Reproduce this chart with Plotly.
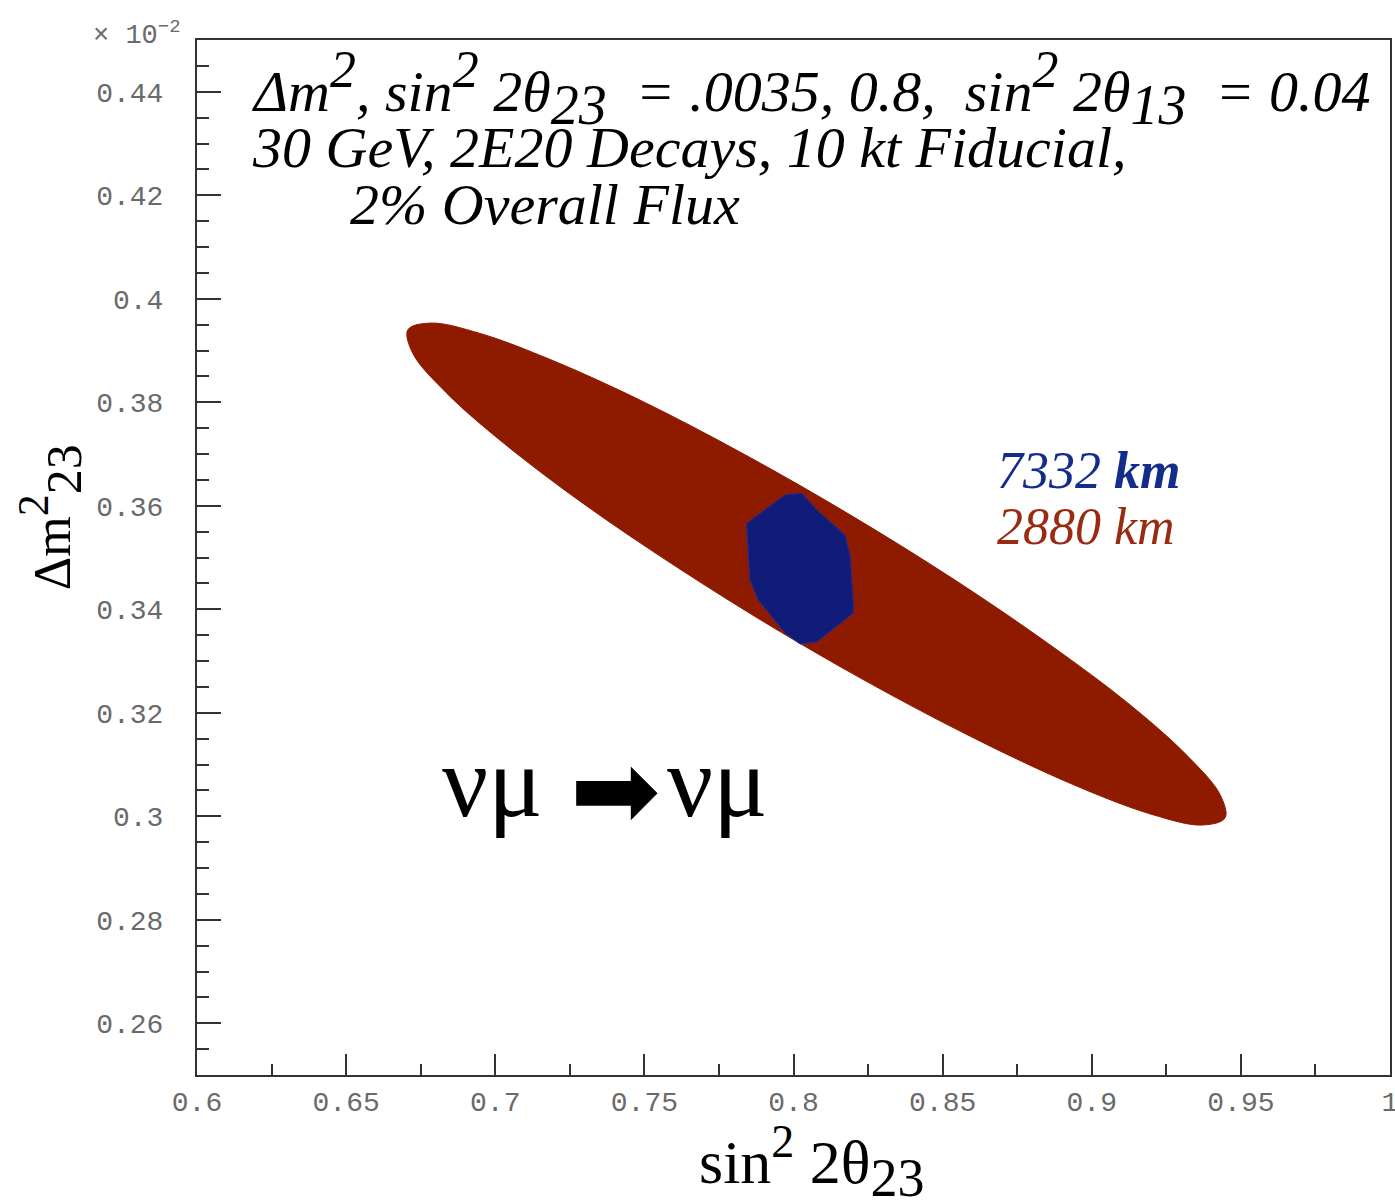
import plotly.graph_objects as go

# ---- data ----
# 2880 km contour boundary (sin^2 2theta23 , dm^2_23 in units of 1e-2 eV^2)
ell_x = [0.9447, 0.9370, 0.9205, 0.8963, 0.8661, 0.8319, 0.7960, 0.7610, 0.7291, 0.7026,
         0.6833, 0.6724, 0.6707, 0.6784, 0.6949, 0.7191, 0.7493, 0.7836, 0.8194, 0.8545,
         0.8863, 0.9129, 0.9322, 0.9430, 0.9447]
ell_y = [0.2997, 0.2983, 0.3003, 0.3055, 0.3135, 0.3237, 0.3355, 0.3481, 0.3606, 0.3722,
         0.3820, 0.3894, 0.3940, 0.3953, 0.3933, 0.3881, 0.3802, 0.3699, 0.3581, 0.3455,
         0.3330, 0.3215, 0.3116, 0.3042, 0.2997]
# 7332 km contour boundary
hex_x = [0.7843, 0.7972, 0.8028, 0.8078, 0.8173, 0.8190, 0.8201, 0.8199, 0.8078, 0.8022,
         0.7972, 0.7882, 0.7854, 0.7843]
hex_y = [0.3566, 0.3621, 0.3624, 0.3592, 0.3543, 0.3502, 0.3405, 0.3392, 0.3337, 0.3333,
         0.3354, 0.3418, 0.3457, 0.3566]

x_ticks = [0.6, 0.65, 0.7, 0.75, 0.8, 0.85, 0.9, 0.95, 1.0]
x_labels = ["0.6", "0.65", "0.7", "0.75", "0.8", "0.85", "0.9", "0.95", "1"]
y_ticks = [0.26, 0.28, 0.30, 0.32, 0.34, 0.36, 0.38, 0.40, 0.42, 0.44]
y_labels = ["0.26", "0.28", "0.3", "0.32", "0.34", "0.36", "0.38", "0.4", "0.42", "0.44"]

RED = "#8E1B00"
NAVY = "#101C78"

fig = go.Figure()
fig.add_trace(go.Scatter(x=ell_x, y=ell_y, mode="lines",
                         line=dict(color=RED, width=1, shape="spline", smoothing=1.0),
                         fill="toself", fillcolor=RED, hoverinfo="skip", showlegend=False))
fig.add_trace(go.Scatter(x=hex_x, y=hex_y, mode="lines", line=dict(color="#1A2A9A", width=1),
                         fill="toself", fillcolor=NAVY, hoverinfo="skip", showlegend=False))

tickfont = dict(family="Liberation Mono, DejaVu Sans Mono, monospace", size=28, color="#6a6a6a")
axis_common = dict(showline=True, linecolor="#333333", linewidth=2, mirror=True,
                   ticks="inside", tickcolor="#333333", tickwidth=1.5,
                   showgrid=False, zeroline=False, automargin=False, tickfont=tickfont,
                   ticklabeloverflow="allow")

fig.update_xaxes(range=[0.6, 1.0], tickmode="array", tickvals=x_ticks, ticktext=x_labels,
                 ticklen=21, ticklabelstandoff=0,
                 minor=dict(tickmode="linear", tick0=0.6, dtick=0.025, ticklen=11, ticks="inside",
                            tickcolor="#333333", tickwidth=1.5, showgrid=False),
                 **axis_common)
fig.update_yaxes(range=[0.25, 0.45], tickmode="array", tickvals=y_ticks, ticktext=y_labels,
                 ticklen=24, ticklabelstandoff=26,
                 minor=dict(tickmode="linear", tick0=0.25, dtick=0.005, ticklen=12, ticks="inside",
                            tickcolor="#333333", tickwidth=1.5, showgrid=False),
                 **axis_common)

serif = "Liberation Serif, Times New Roman, serif"
NB = "\u00a0"
ann = []
def A(text, x, y, size, color="black", xanchor="center", family=serif, angle=0):
    ann.append(dict(text=text, x=x, y=y, xref="paper", yref="paper", showarrow=False,
                    xanchor=xanchor, yanchor="middle", textangle=angle,
                    font=dict(family=family, size=size, color=color)))

def sup(t, px):
    return '<sup><span style="font-size:%dpx">%s</span></sup>' % (px, t)
def sub(t, px):
    return '<sub><span style="font-size:%dpx">%s</span></sub>' % (px, t)

A("<i>\u0394m" + sup("2", 52) + ", sin" + sup("2", 52) + " 2\u03b8" + sub("23", 56) + NB*2 +
  "= .0035, 0.8," + NB*2 + "sin" + sup("2", 52) + " 2\u03b8" + sub("13", 56) + NB*2 +
  "= 0.04</i>", 0.0444, 0.9530, 58, xanchor="left")
A("<i>30 GeV, 2E20 Decays, 10 kt Fiducial,</i>", 0.0444, 0.8957, 58, xanchor="left")
A("<i>2% Overall Flux</i>", 0.1266, 0.8406, 58, xanchor="left")

A("<i>7332 <b>km</b></i>", 0.6689, 0.5845, 52, color="#142C8C", xanchor="left")
A("<i>2880 km</i>", 0.6689, 0.5295, 52, color="#9A2A12", xanchor="left")

A("\u03bd\u03bc", 0.2473, 0.2831, 102)
A("\u27a1", 0.3504, 0.2758, 108, family="DejaVu Sans")
A("\u03bd\u03bc", 0.4359, 0.2831, 102)

A("sin" + sup("2", 46) + " 2\u03b8" + sub("23", 54), 0.5155, -0.084, 62)
A("\u0394m" + sup("2", 44) + sub("23", 50), -0.1232, 0.539, 52, angle=-90)
A("\u00d7 10<sup>\u22122</sup>", -0.0503, 1.0058, 27, color="#6a6a6a",
  family="Liberation Mono, DejaVu Sans Mono, monospace")

fig.update_layout(width=1395, height=1202, margin=dict(l=197, r=5, t=40, b=127),
                  paper_bgcolor="white", plot_bgcolor="white", annotations=ann, showlegend=False)

fig.write_html("out.html")
